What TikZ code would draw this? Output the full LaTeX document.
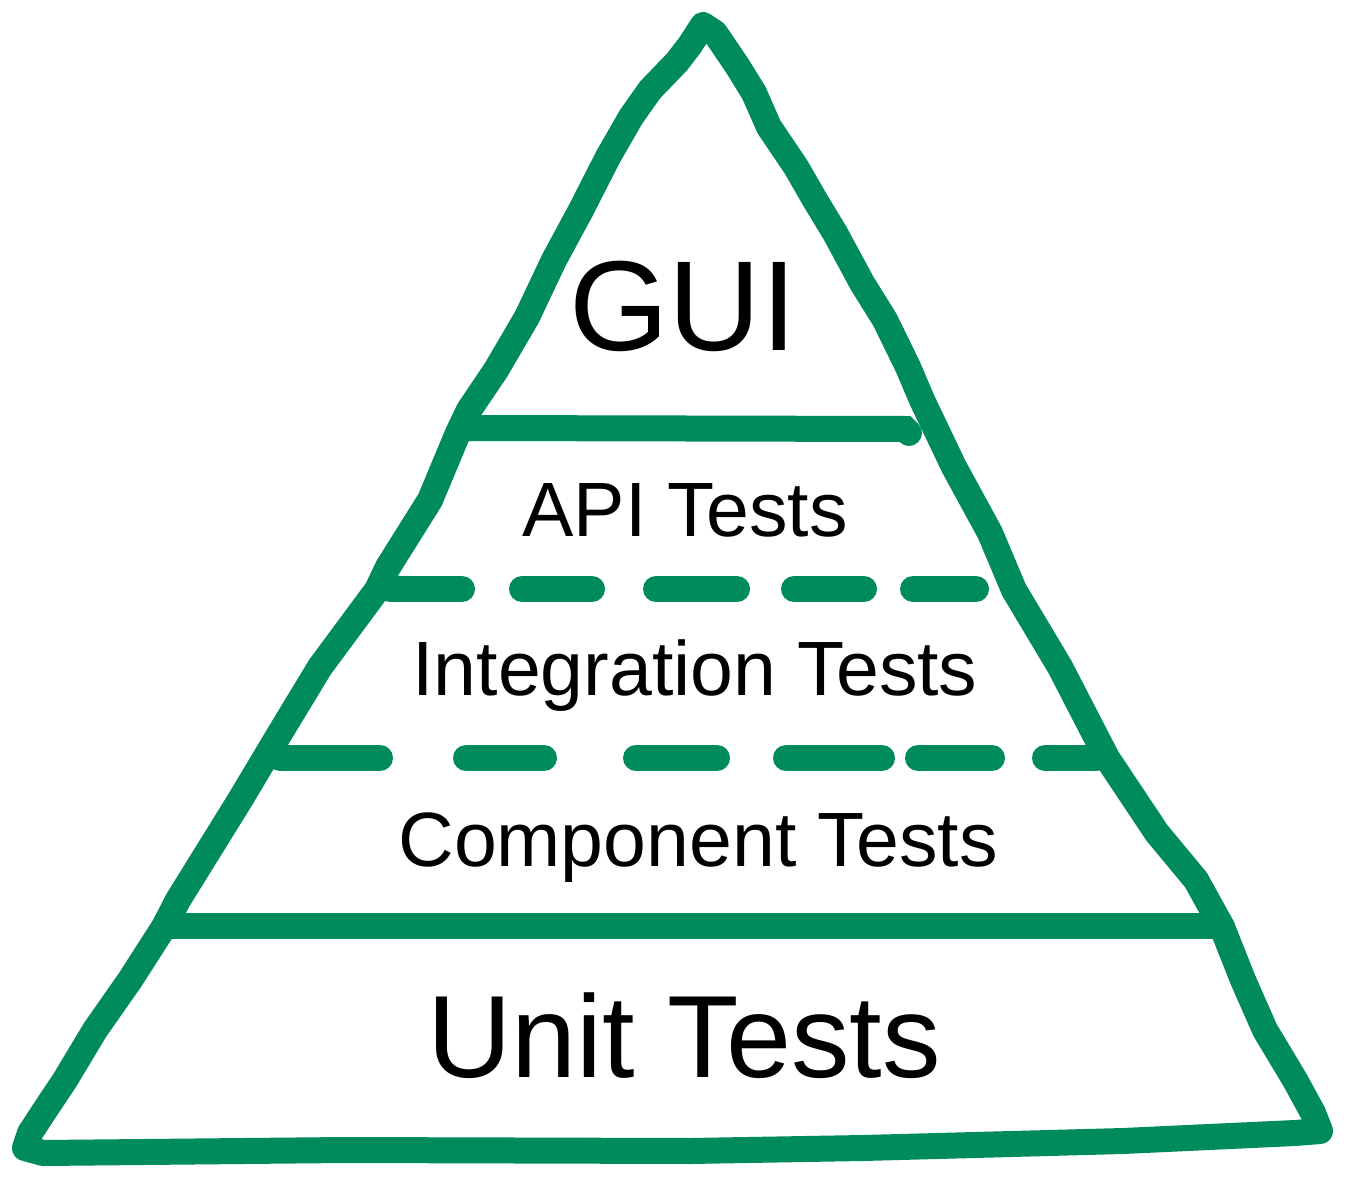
\documentclass[tikz,border=0pt]{standalone}
\usepackage{fontspec}
\setmainfont{Liberation Sans}
\usepackage{tikz}

\definecolor{pyrgreen}{RGB}{0,139,90}

\begin{document}
\begin{tikzpicture}[x=1pt,y=-1pt,
    outline/.style={draw=pyrgreen, line width=26pt, line join=round, line cap=round},
    solidbar/.style={draw=pyrgreen, line width=26pt},
    dashbar/.style={draw=pyrgreen, line width=26pt, line cap=round},
    layer/.style={anchor=base, inner sep=0pt, text=black}]
    \useasboundingbox (0,0) rectangle (1347,1198);
    % cross bars
    \draw[solidbar, line cap=round] (468,428) -- (905,429) -- (909,433);
    \draw[solidbar] (166,926) -- (1222,926);
    \foreach \a/\b in {390/462, 522/592, 656/737, 794/864, 913/976}
        \draw[dashbar] (\a,589) -- (\b,589);
    \foreach \a/\b in {280/380, 466/544, 636/717, 786/882, 918/992, 1045/1097}
        \draw[dashbar] (\a,758) -- (\b,758);
    % the pyramid itself, drawn by hand
    \draw[outline] (703,25) -- (690,45) -- (677,62) -- (650,90) -- (631,117)
        -- (608,157) -- (581,210) -- (554,260) -- (527,317) -- (496,370)
        -- (469,410) -- (458,433) -- (430,500) -- (388,567) -- (377,590)
        -- (320,667) -- (280,733) -- (240,800) -- (178,900) -- (164,927)
        -- (130,980) -- (95,1030) -- (65,1080) -- (43,1113) -- (30,1133)
        -- (25,1148) -- (43,1153) -- (345,1150) -- (690,1151) -- (863,1148)
        -- (1123,1141) -- (1295,1133) -- (1320,1131) -- (1313,1113)
        -- (1295,1080) -- (1265,1030) -- (1243,980) -- (1222,927)
        -- (1196,880) -- (1157,833) -- (1107,758) -- (1060,667) -- (1014,590)
        -- (990,533) -- (954,467) -- (922,400) -- (908,367) -- (885,320)
        -- (862,283) -- (835,233) -- (815,200) -- (796,167) -- (769,127)
        -- (754,93) -- (738,67) -- (715,33) -- cycle;
    % layer labels
    \node[layer, font=\fontsize{128}{130}\selectfont] at (683,351) (gui) {GUI};
    \node[layer, font=\fontsize{77}{80}\selectfont] at (685,536) (api) {API Tests};
    \node[layer, font=\fontsize{77}{80}\selectfont] at (695,695) (integration) {Integration Tests};
    \node[layer, font=\fontsize{77}{80}\selectfont] at (698,866) (component) {Component Tests};
    \node[layer, font=\fontsize{117}{120}\selectfont] at (684,1077) (unit) {Unit Tests};
\end{tikzpicture}
\end{document}
